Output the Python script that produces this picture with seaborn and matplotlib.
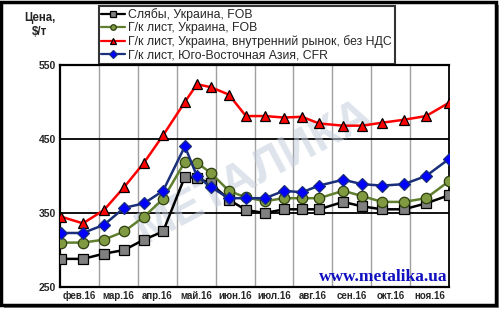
import matplotlib
matplotlib.use("Agg")
import matplotlib.pyplot as plt
import seaborn as sns
import pandas as pd
from matplotlib.patches import Rectangle

# Positions of observations in month units (0 = start of February 2016)
x_pos = [0.03, 0.59, 1.13, 1.65, 2.16, 2.65, 3.21, 3.52, 3.88, 4.34, 4.78,
         5.27, 5.76, 6.22, 6.66, 7.28, 7.76, 8.28, 8.84, 9.41, 10.0]

slabs = [288, 288, 295, 300, 314, 325, 399, 397, 390, 368, 354,
         350, 355, 355, 355, 365, 359, 355, 355, 363, 374]
hr_ukr_fob = [310, 310, 314, 325, 345, 369, 419, 418, 404, 380, 371,
              366, 370, 370, 370, 380, 373, 365, 365, 370, 393]
hr_ukr_dom = [345, 336, 354, 385, 418, 455, 500, 524, 520, 510, 481,
              481, 479, 480, 471, 468, 468, 472, 476, 481, 499]
hr_sea_cfr = [323, 323, 334, 357, 363, 380, 440, 400, 385, 370, 370,
              370, 380, 378, 387, 395, 389, 387, 389, 400, 423]

series_names = ["Слябы, Украина, FOB",
                "Г/к лист, Украина, FOB",
                "Г/к лист, Украина, внутренний рынок, без НДС",
                "Г/к лист, Юго-Восточная Азия, CFR"]

month_labels = ["фев.16", "мар.16", "апр.16", "май.16", "июн.16",
                "июл.16", "авг.16", "сен.16", "окт.16", "ноя.16"]
y_ticks = [250, 350, 450, 550]

sns.set_theme(style="white")
plt.rcParams['font.family'] = ['Liberation Sans', 'DejaVu Sans']

fig = plt.figure(figsize=(5.0, 3.09), dpi=100)
fig.patch.set_facecolor("white")
ax = fig.add_axes([60/500, 1-287/309, (449-60)/500, (287-65)/309])

styles = [
    dict(color="black", marker="s", markerfacecolor="#808080", markeredgecolor="black", markersize=6.5),
    dict(color="#5f7f2f", marker="o", markerfacecolor="#7f9a40", markeredgecolor="#2f3f10", markersize=7.5),
    dict(color="#ff0000", marker="^", markerfacecolor="#ff0000", markeredgecolor="black", markersize=7.5),
    dict(color="#1a2f7a", marker="D", markerfacecolor="#0000ff", markeredgecolor="#1a2f7a", markersize=6),
]
data = [slabs, hr_ukr_fob, hr_ukr_dom, hr_sea_cfr]

for name, vals, st in zip(series_names, data, styles):
    df = pd.DataFrame({"x": x_pos, "y": vals})
    sns.lineplot(data=df, x="x", y="y", ax=ax, label=name, linewidth=1.8,
                 markeredgewidth=0.9, zorder=3, **st)

ax.set_xlim(0, 10)
ax.set_ylim(250, 550)
ax.set_yticks(y_ticks)
ax.set_yticklabels([str(v) for v in y_ticks], fontsize=7.5, fontweight="bold")
ax.set_xticks([i + 0.5 for i in range(10)])
ax.set_xticklabels(month_labels, fontsize=7, fontweight="bold")
ax.tick_params(axis="both", length=0, pad=3)
ax.set_xlabel("")
ax.set_ylabel("")

for i in range(1, 10):
    ax.axvline(i, color="#a0a0a0", linewidth=1.0, zorder=1)
for v in [350, 450]:
    ax.axhline(v, color="black", linewidth=1.3, zorder=1)

for side in ["left", "bottom", "top"]:
    ax.spines[side].set_color("black")
    ax.spines[side].set_linewidth(1.6)
ax.spines["right"].set_color("black")
ax.spines["right"].set_linewidth(1.3)

# watermark
ax.text(5.0, 405, "МЕТАЛИКА", fontsize=34, fontweight="bold", color="#c4cedc",
        alpha=0.55, rotation=28, ha="center", va="center", zorder=2)
ax.text(9.97, 263, "www.metalika.ua", fontsize=12.5, fontweight="bold",
        family="Liberation Serif", color="#1010c0", ha="right", va="center", zorder=4)

ax.get_legend().remove()
handles, labels = ax.get_legend_handles_labels()
leg = fig.legend(handles, labels, loc="upper left", bbox_to_anchor=(99/500, 1-6/309),
                 fontsize=8.8, frameon=True, fancybox=False, handlelength=1.9,
                 handletextpad=0.3, labelspacing=0.08, borderpad=0.2,
                 borderaxespad=0)
leg.get_frame().set_edgecolor("black")
leg.get_frame().set_linewidth(1.5)
for h in leg.legend_handles:
    h.set_markersize(4)
    h.set_linewidth(1.6)

fig.text(40/500, 1-25/309, "Цена,\n$/т", fontsize=8.3, fontweight="bold",
         ha="center", va="center", linespacing=1.3)

# outer frame with shadow
fig.patches.append(Rectangle((4/500, 1/309), 495/500, 303/309, transform=fig.transFigure,
                             facecolor="#808080", edgecolor="none", zorder=-2))
fig.patches.append(Rectangle((1/500, 4/309), 495/500, 303/309, transform=fig.transFigure,
                             facecolor="white", edgecolor="black", linewidth=2.5, zorder=-1))

fig.savefig("out.png", dpi=100)
